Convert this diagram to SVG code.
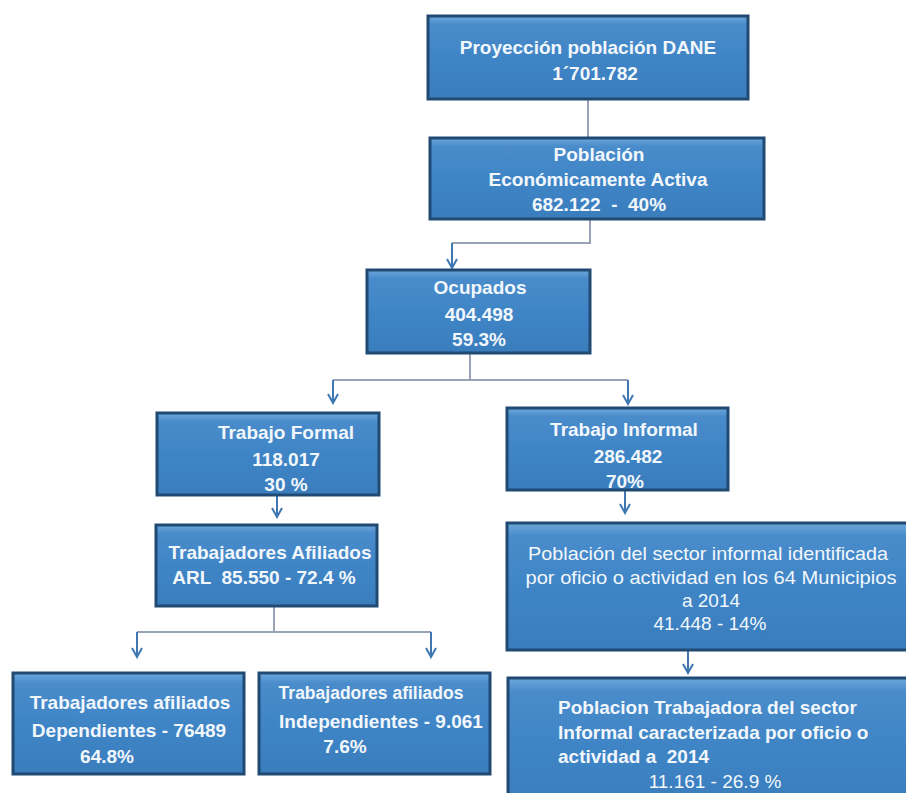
<svg xmlns="http://www.w3.org/2000/svg" width="906" height="793" viewBox="0 0 906 793">
<defs>
<linearGradient id="bg" x1="0" y1="0" x2="0" y2="1">
<stop offset="0" stop-color="#6ea8dc"/>
<stop offset="0.1" stop-color="#4a8ccb"/>
<stop offset="0.5" stop-color="#3f85c6"/>
<stop offset="1" stop-color="#3a7dbd"/>
</linearGradient>
<marker id="ah" viewBox="0 0 12 12" refX="10" refY="6" markerWidth="12" markerHeight="12" markerUnits="userSpaceOnUse" orient="auto">
<path d="M1,1 L10,6 L1,11" fill="none" stroke="#3f77b3" stroke-width="2"/>
</marker>
</defs>
<style>
.box{fill:url(#bg);stroke:#214a72;stroke-width:3}
.t{fill:#f2f7fc;font-family:"Liberation Sans",Arial,sans-serif;font-weight:bold;text-anchor:middle;font-size:19px}
.r{fill:#f2f7fc;font-family:"Liberation Sans",Arial,sans-serif;text-anchor:middle;font-size:19px}
.s{text-anchor:start}
.ln{fill:none;stroke:#98a4b6;stroke-width:2}
.ar{fill:none;stroke:#3f77b3;stroke-width:2;marker-end:url(#ah)}
</style>
<rect width="906" height="793" fill="#ffffff"/>
<g id="connectors">
<path class="ln" d="M588,99 V138"/>
<path class="ln" d="M590,219 V243 H452"/>
<path class="ar" d="M452,243 V268"/>
<path class="ln" d="M470,353 V380 M333,380 H628"/>
<path class="ar" d="M333,380 V403"/>
<path class="ar" d="M628,380 V404"/>
<path class="ar" d="M277,495 V517"/>
<path class="ar" d="M625,490 V513"/>
<path class="ln" d="M274,606 V632 M137,632 H431"/>
<path class="ar" d="M137,632 V657"/>
<path class="ar" d="M431,632 V657"/>
<path class="ar" d="M688,650 V673"/>
</g>
<g id="n1">
<rect class="box" x="428" y="16" width="320" height="83"/>
<text class="t" x="588" y="54">Proyección población DANE</text>
<text class="t" x="595" y="80">1´701.782</text>
</g>
<g id="n2">
<rect class="box" x="430" y="138" width="334" height="81"/>
<text class="t" x="599" y="161">Población</text>
<text class="t" x="598" y="186">Económicamente Activa</text>
<text class="t" x="599" y="211">682.122 &#160;- &#160;40%</text>
</g>
<g id="n3">
<rect class="box" x="367" y="270" width="223" height="83"/>
<text class="t" x="480" y="294">Ocupados</text>
<text class="t" x="479" y="321">404.498</text>
<text class="t" x="479" y="346">59.3%</text>
</g>
<g id="n4">
<rect class="box" x="157" y="413" width="222" height="82"/>
<text class="t" x="286" y="439">Trabajo Formal</text>
<text class="t" x="286" y="466">118.017</text>
<text class="t" x="286" y="491">30 %</text>
</g>
<g id="n5">
<rect class="box" x="507" y="408" width="221" height="82"/>
<text class="t" x="624" y="436">Trabajo Informal</text>
<text class="t" x="628" y="463">286.482</text>
<text class="t" x="625" y="488">70%</text>
</g>
<g id="n6">
<rect class="box" x="156" y="525" width="221" height="81"/>
<text class="t" x="270" y="559">Trabajadores Afiliados</text>
<text class="t" x="264" y="584">ARL &#160;85.550 - 72.4 %</text>
</g>
<g id="n7">
<rect class="box" x="507" y="523" width="412" height="127"/>
<text class="r" x="708" y="560" textLength="360" lengthAdjust="spacingAndGlyphs">Población del sector informal identificada</text>
<text class="r" x="711" y="584" textLength="371" lengthAdjust="spacingAndGlyphs">por oficio o actividad en los 64 Municipios</text>
<text class="r" x="711" y="607">a 2014</text>
<text class="r" x="710" y="630">41.448 - 14%</text>
</g>
<g id="n8">
<rect class="box" x="13" y="673" width="231" height="101"/>
<text class="t" x="130" y="709">Trabajadores afiliados</text>
<text class="t" x="129" y="737">Dependientes - 76489</text>
<text class="t" x="107" y="763">64.8%</text>
</g>
<g id="n9">
<rect class="box" x="259" y="673" width="231" height="101"/>
<text class="t" x="371" y="699" style="font-size:17.5px">Trabajadores afiliados</text>
<text class="t" x="381" y="728">Independientes - 9.061</text>
<text class="t" x="345" y="753">7.6%</text>
</g>
<g id="n10">
<rect class="box" x="508" y="678" width="412" height="130"/>
<text class="t s" x="558" y="714">Poblacion Trabajadora del sector</text>
<text class="t s" x="558" y="739">Informal caracterizada por oficio o</text>
<text class="t s" x="558" y="763">actividad a &#160;2014</text>
<text class="r" x="715" y="788">11.161 - 26.9 %</text>
</g>
</svg>
